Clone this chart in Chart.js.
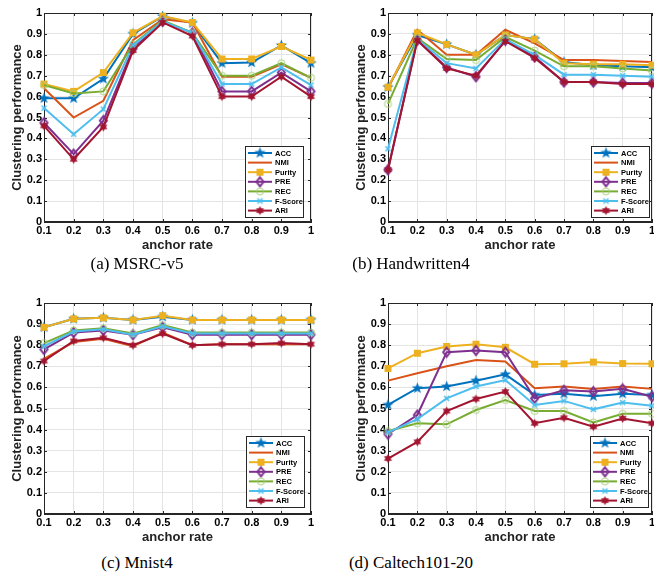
<!DOCTYPE html>
<html>
<head>
<meta charset="utf-8">
<script src="https://cdn.jsdelivr.net/npm/chart.js@4.4.0/dist/chart.umd.min.js"></script>
<style>
  body { margin: 0; width: 654px; height: 575px; overflow: hidden; background: #fff; position: relative; }
  canvas { position: absolute; }
  .cap { position: absolute; width: 274px; text-align: center; font-family: 'Liberation Serif', 'Times New Roman', serif; font-size: 17px; line-height: 20px; color: #000; }
</style>
</head>
<body>
<canvas id="chartA" width="322" height="258" style="left:0;top:0"></canvas>
<canvas id="chartB" width="319" height="258" style="left:344px;top:0"></canvas>
<canvas id="chartC" width="322" height="260" style="left:0;top:290px"></canvas>
<canvas id="chartD" width="319" height="260" style="left:344px;top:290px"></canvas>
<div class="cap" style="left:0;top:254px">(a) MSRC-v5</div>
<div class="cap" style="left:274px;top:254px">(b) Handwritten4</div>
<div class="cap" style="left:0;top:553px">(c) Mnist4</div>
<div class="cap" style="left:274px;top:553px">(d) Caltech101-20</div>
<script>
// x categories and series names
const rates = ['0.1', '0.2', '0.3', '0.4', '0.5', '0.6', '0.7', '0.8', '0.9', '1'];
const seriesNames = ['ACC', 'NMI', 'Purity', 'PRE', 'REC', 'F-Score', 'ARI'];
const yTicks = [0, 0.1, 0.2, 0.3, 0.4, 0.5, 0.6, 0.7, 0.8, 0.9, 1];

// rows follow seriesNames order
const msrcV5 = [
  [0.592, 0.592, 0.685, 0.900, 0.984, 0.952, 0.760, 0.763, 0.845, 0.760],
  [0.640, 0.500, 0.580, 0.870, 0.970, 0.955, 0.695, 0.695, 0.755, 0.690],
  [0.660, 0.625, 0.715, 0.905, 0.985, 0.955, 0.780, 0.780, 0.840, 0.775],
  [0.475, 0.325, 0.485, 0.830, 0.960, 0.905, 0.625, 0.625, 0.715, 0.625],
  [0.655, 0.615, 0.625, 0.850, 0.965, 0.905, 0.700, 0.700, 0.760, 0.690],
  [0.545, 0.420, 0.540, 0.845, 0.960, 0.905, 0.660, 0.660, 0.740, 0.655],
  [0.460, 0.300, 0.455, 0.820, 0.955, 0.890, 0.600, 0.600, 0.695, 0.600]
];
const handwritten4 = [
  [0.645, 0.895, 0.850, 0.800, 0.895, 0.875, 0.765, 0.750, 0.745, 0.740],
  [0.640, 0.920, 0.800, 0.800, 0.920, 0.855, 0.775, 0.775, 0.770, 0.765],
  [0.645, 0.905, 0.850, 0.800, 0.895, 0.875, 0.760, 0.755, 0.755, 0.750],
  [0.250, 0.870, 0.740, 0.695, 0.870, 0.790, 0.670, 0.670, 0.665, 0.665],
  [0.565, 0.880, 0.780, 0.775, 0.885, 0.820, 0.745, 0.745, 0.735, 0.725],
  [0.350, 0.875, 0.760, 0.735, 0.875, 0.800, 0.705, 0.705, 0.700, 0.695],
  [0.250, 0.870, 0.735, 0.700, 0.865, 0.785, 0.670, 0.670, 0.660, 0.660]
];
const mnist4 = [
  [0.885, 0.925, 0.930, 0.920, 0.935, 0.920, 0.920, 0.920, 0.920, 0.920],
  [0.735, 0.815, 0.830, 0.795, 0.860, 0.800, 0.805, 0.805, 0.805, 0.805],
  [0.885, 0.925, 0.930, 0.920, 0.940, 0.920, 0.920, 0.920, 0.920, 0.920],
  [0.780, 0.860, 0.870, 0.850, 0.885, 0.850, 0.850, 0.850, 0.850, 0.850],
  [0.810, 0.870, 0.880, 0.855, 0.895, 0.860, 0.860, 0.860, 0.860, 0.860],
  [0.795, 0.865, 0.875, 0.850, 0.890, 0.855, 0.855, 0.855, 0.855, 0.855],
  [0.725, 0.820, 0.835, 0.800, 0.855, 0.800, 0.805, 0.805, 0.810, 0.805]
];
const caltech101 = [
  [0.517, 0.596, 0.604, 0.632, 0.662, 0.564, 0.570, 0.558, 0.570, 0.564],
  [0.632, 0.667, 0.700, 0.730, 0.723, 0.596, 0.604, 0.593, 0.604, 0.593],
  [0.690, 0.762, 0.794, 0.805, 0.790, 0.710, 0.712, 0.720, 0.713, 0.712],
  [0.379, 0.469, 0.767, 0.775, 0.767, 0.548, 0.586, 0.580, 0.593, 0.556],
  [0.393, 0.430, 0.425, 0.493, 0.540, 0.488, 0.488, 0.434, 0.475, 0.475],
  [0.387, 0.450, 0.548, 0.604, 0.635, 0.517, 0.536, 0.496, 0.528, 0.513],
  [0.263, 0.342, 0.488, 0.545, 0.580, 0.430, 0.456, 0.414, 0.453, 0.430]
];

const seriesColors = ['#0072BD', '#D95319', '#EDB120', '#7E2F8E', '#77AC30', '#4DBEEE', '#A2142F'];

// little marker images, matlab style
function makeMarker(kind, color) {
  const c = document.createElement('canvas');
  c.width = 13; c.height = 13;
  const g = c.getContext('2d');
  g.translate(6.5, 6.5);
  g.strokeStyle = color; g.fillStyle = color;
  if (kind === 'pentagram' || kind === 'hexagram') {
    const n = kind === 'pentagram' ? 5 : 6;
    const ro = kind === 'pentagram' ? 6 : 4.6;
    const ri = kind === 'pentagram' ? 2.4 : 2.6;
    g.beginPath();
    for (let i = 0; i < n * 2; i++) {
      const r = i % 2 ? ri : ro;
      const a = -Math.PI / 2 + i * Math.PI / n;
      g.lineTo(r * Math.cos(a), r * Math.sin(a));
    }
    g.closePath(); g.fill();
  } else if (kind === 'square') {
    g.fillRect(-3.5, -3.5, 7, 7);
  } else if (kind === 'diamond') {
    g.lineWidth = 2;
    g.beginPath(); g.moveTo(0, -4.5); g.lineTo(3.5, 0); g.lineTo(0, 4.5); g.lineTo(-3.5, 0); g.closePath(); g.stroke();
  } else if (kind === 'circle') {
    g.lineWidth = 1;
    g.strokeStyle = '#a9cf7a';
    g.beginPath(); g.arc(0, 0, 3.5, 0, Math.PI * 2); g.stroke();
  } else if (kind === 'x') {
    g.lineWidth = 1.6;
    g.beginPath(); g.moveTo(-2.5, -2.5); g.lineTo(2.5, 2.5); g.moveTo(2.5, -2.5); g.lineTo(-2.5, 2.5); g.stroke();
  }
  return c;
}
const markerKinds = ['pentagram', null, 'square', 'diamond', 'circle', 'x', 'hexagram'];
const markers = markerKinds.map((k, i) => k ? makeMarker(k, seriesColors[i]) : null);

const boldFont = { family: "'Liberation Sans', Arial, sans-serif", weight: 'bold', size: 11 };
const titleFont = { family: "'Liberation Sans', Arial, sans-serif", weight: 'bold', size: 13 };

// box + inward ticks like matlab
const framePlugin = {
  id: 'frame',
  beforeDatasetsDraw(chart) {
    const { ctx, chartArea: a, scales } = chart;
    ctx.save();
    ctx.strokeStyle = '#262626';
    ctx.lineWidth = 1;
    ctx.strokeRect(a.left + 0.5, a.top + 0.5, a.right - a.left - 1, a.bottom - a.top - 1);
    ctx.beginPath();
    scales.y.ticks.forEach((t, i) => {
      const y = Math.round(scales.y.getPixelForTick(i)) + 0.5;
      ctx.moveTo(a.left, y); ctx.lineTo(a.left + 3, y);
      ctx.moveTo(a.right, y); ctx.lineTo(a.right - 3, y);
    });
    scales.x.ticks.forEach((t, i) => {
      const x = Math.round(scales.x.getPixelForTick(i)) + 0.5;
      ctx.moveTo(x, a.bottom); ctx.lineTo(x, a.bottom - 3);
      ctx.moveTo(x, a.top); ctx.lineTo(x, a.top + 3);
    });
    ctx.stroke();
    ctx.restore();
  }
};

// legend box in the lower right of the plot
const boxLegend = {
  id: 'boxLegend',
  afterDraw(chart, args, opts) {
    const { ctx, chartArea: a } = chart;
    const w = 58, h = 71;
    const x0 = a.right - opts.right - w, y0 = a.bottom - opts.bottom - h;
    ctx.save();
    ctx.fillStyle = '#fff';
    ctx.fillRect(x0, y0, w, h);
    ctx.strokeStyle = '#262626';
    ctx.lineWidth = 1;
    ctx.strokeRect(x0 + 0.5, y0 + 0.5, w, h);
    ctx.font = "bold 7.5px 'Liberation Sans', Arial, sans-serif";
    ctx.textBaseline = 'middle';
    seriesNames.forEach((name, i) => {
      const y = y0 + 7 + i * 9.6;
      ctx.strokeStyle = seriesColors[i];
      ctx.lineWidth = 2;
      ctx.beginPath(); ctx.moveTo(x0 + 3, y); ctx.lineTo(x0 + 27, y); ctx.stroke();
      if (markers[i]) ctx.drawImage(markers[i], x0 + 15 - 6.5, y - 6.5);
      ctx.fillStyle = '#000';
      ctx.fillText(name, x0 + 30, y + 0.5);
    });
    ctx.restore();
  }
};

function makeChart(id, rows, legendRight, legendBottom) {
  return new Chart(document.getElementById(id), {
    type: 'line',
    data: {
      labels: rates,
      datasets: seriesNames.map((name, i) => ({
        label: name,
        data: rows[i],
        borderColor: seriesColors[i],
        backgroundColor: seriesColors[i],
        borderWidth: 2,
        pointStyle: markers[i] || 'circle',
        pointRadius: markers[i] ? 5 : 0,
        order: seriesNames.length - i,
        clip: false,
        tension: 0
      }))
    },
    options: {
      responsive: false,
      animation: false,
      layout: { padding: { top: 13, right: 11, left: 0, bottom: 0 } },
      plugins: {
        legend: { display: false },
        tooltip: { enabled: false },
        boxLegend: { right: legendRight, bottom: legendBottom }
      },
      scales: {
        x: {
          grid: { color: '#e4e4e4', drawTicks: false },
          border: { color: '#262626' },
          ticks: { autoSkip: false, maxRotation: 0, padding: 2, color: '#000', font: boldFont },
          title: { display: true, text: 'anchor rate', color: '#222', font: titleFont, padding: { top: 0, bottom: 5 } },
          afterFit(s) { s.height = 36; }
        },
        y: {
          min: 0, max: 1,
          grid: { color: '#e4e4e4', drawTicks: false },
          border: { color: '#262626' },
          ticks: { stepSize: 0.1, padding: 2, color: '#000', font: boldFont, callback: v => String(+v.toFixed(1)) },
          title: { display: true, text: 'Clustering performance', color: '#222', font: titleFont, padding: { top: 10, bottom: 0 } },
          afterFit(s) { s.width = 44; }
        }
      }
    },
    plugins: [framePlugin, boxLegend]
  });
}

makeChart('chartA', msrcV5, 8, 5);
makeChart('chartB', handwritten4, 3, 5);
makeChart('chartC', mnist4, 7, 7);
makeChart('chartD', caltech101, 4, 7);
</script>
</body>
</html>
